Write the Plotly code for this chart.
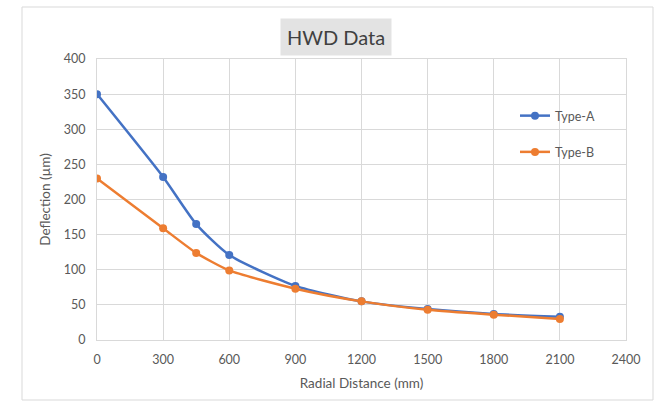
import plotly.graph_objects as go

radial_mm = [0, 300, 450, 600, 900, 1200, 1500, 1800, 2100]
type_a = [350, 232, 165, 121, 77, 55, 44, 37, 33]
type_b = [230, 159, 124, 99, 73, 55, 43, 36, 30]

W, H = 656, 403
L, R, T, B = 97, 30, 59, 63
pw, ph = W - L - R, H - T - B

def px(x):
    return (x - L) / pw

def py(y):
    return (H - B - y) / ph

font = "Lato, 'Liberation Sans', sans-serif"
gray = "#595959"

fig = go.Figure()
fig.add_trace(go.Scatter(x=radial_mm, y=type_a, name="Type-A", mode="lines+markers",
                         legendgroup="a",
                         line=dict(color="#4472C4", width=2.5, shape="spline", smoothing=0.6),
                         marker=dict(size=8, color="#4472C4")))
fig.add_trace(go.Scatter(x=radial_mm, y=type_b, name="Type-B", mode="lines+markers",
                         legendgroup="b",
                         line=dict(color="#ED7D31", width=2.5, shape="spline", smoothing=0.6),
                         marker=dict(size=8, color="#ED7D31")))

fig.update_layout(
    width=W, height=H,
    margin=dict(l=L, r=R, t=T, b=B),
    paper_bgcolor="white", plot_bgcolor="white",
    font=dict(family=font, color=gray, size=12.5),
    showlegend=True,
    legend=dict(x=px(515), y=py(101), xanchor="left", yanchor="top",
                bgcolor="rgba(0,0,0,0)", font=dict(size=12.5, color=gray),
                tracegroupgap=17, itemwidth=30),
    xaxis=dict(range=[0, 2400], dtick=300, tick0=0, showgrid=True, gridcolor="#d9d9d9",
               gridwidth=1, zeroline=False, showline=True, linecolor="#d9d9d9",
               mirror=True, ticks="", ticklabelstandoff=8,
               title=dict(text="Radial Distance (mm)", font=dict(size=13.5, color=gray), standoff=12)),
    yaxis=dict(range=[0, 400], dtick=50, tick0=0, showgrid=True, gridcolor="#d9d9d9",
               gridwidth=1, zeroline=False, showline=True, linecolor="#d9d9d9",
               mirror=True, ticks="", ticklabelstandoff=8,
               title=dict(text="Deflection (µm)", font=dict(size=13.5, color=gray), standoff=10)),
)

# title with grey box
fig.add_annotation(text="HWD Data", xref="paper", yref="paper",
                   x=px(336), y=py(37), xanchor="center", yanchor="middle",
                   showarrow=False, font=dict(size=20, color="#404040", family=font),
                   bgcolor="#e3e3e3", borderpad=6)

# chart area border
fig.add_shape(type="rect", xref="paper", yref="paper",
              x0=px(22), x1=px(653), y0=py(400), y1=py(7),
              line=dict(color="#d9d9d9", width=1), layer="below")

fig.write_html("out.html")
